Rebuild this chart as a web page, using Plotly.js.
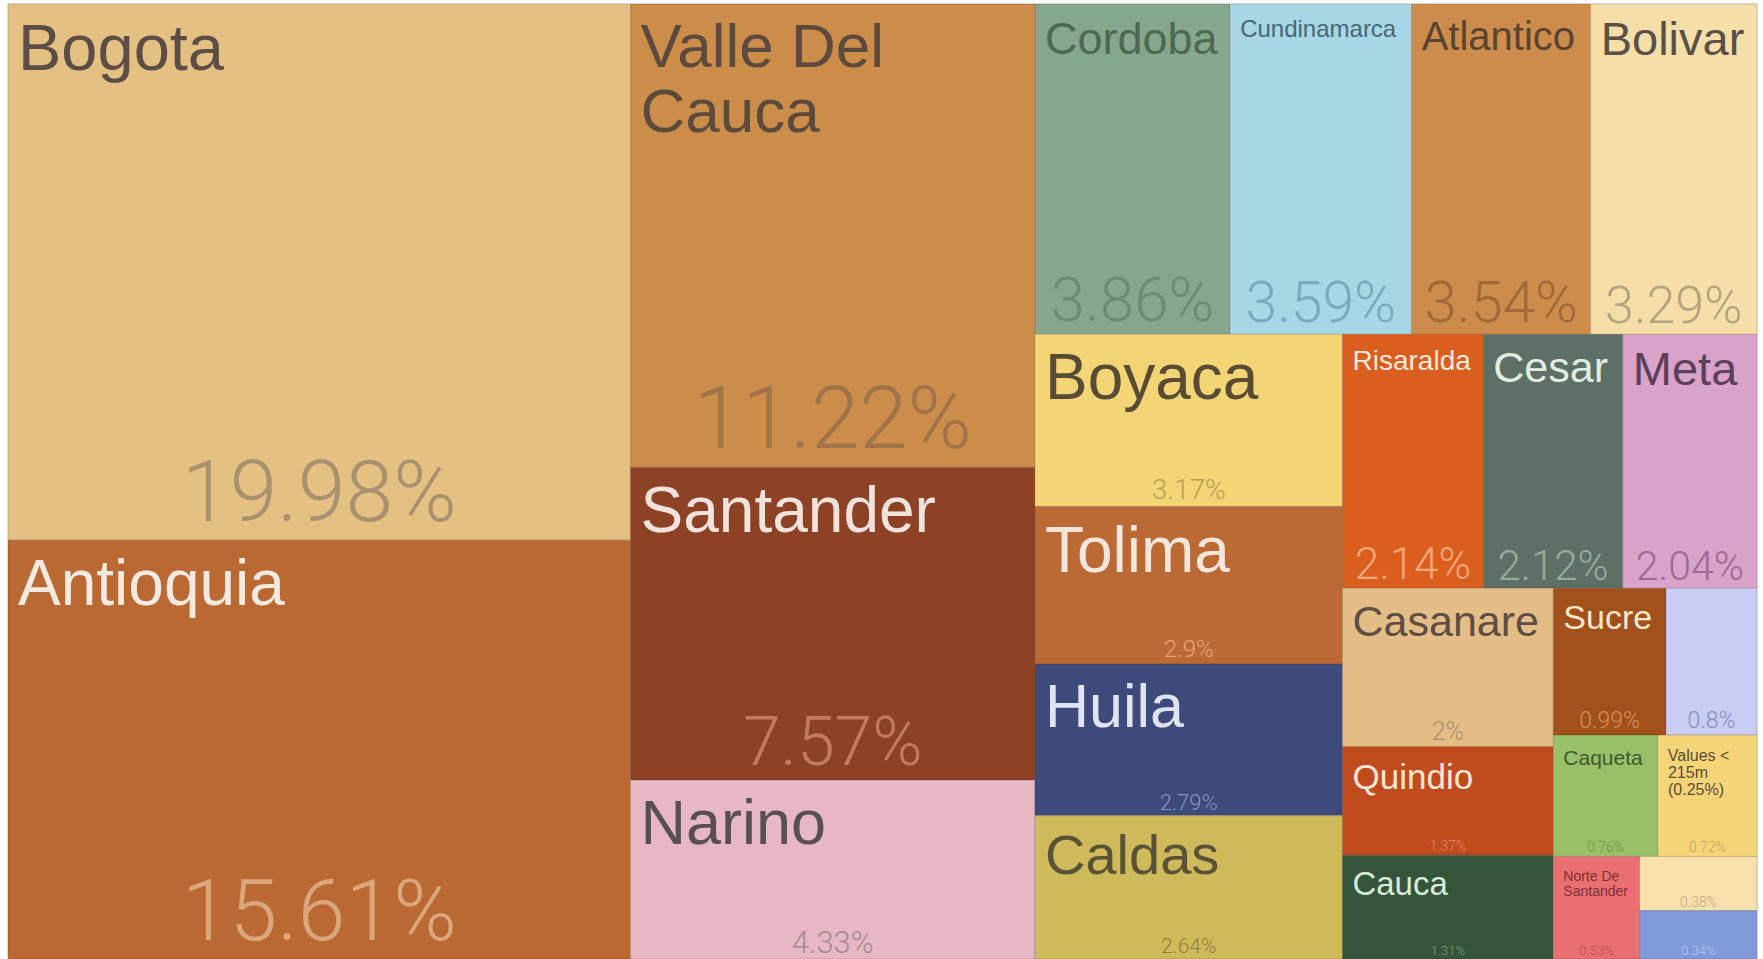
<!DOCTYPE html>
<html>
<head>
<meta charset="utf-8">
<script src="https://cdn.plot.ly/plotly-3.0.1.min.js"></script>
<style>html,body{margin:0;padding:0;background:#fff;overflow:hidden;}#chart{width:1763px;}#err{position:absolute;left:10px;top:10px;font:14px monospace;color:red;}</style>
</head>
<body>
<div id="chart"></div>
<div id="err"></div>
<script>
window.onerror = function (m) { document.getElementById('err').textContent += ' ERR: ' + m; };
// ---- data ----
const rootName = 'Colombia';
const regions = ['Bogota','Antioquia','Valle Del Cauca','Santander','Narino','Cordoba','Cundinamarca','Atlantico','Bolivar','Boyaca','Tolima','Huila','Caldas','Risaralda','Cesar','Meta','Casanare','Quindio','Cauca','Sucre','(unlabeled A)','Caqueta','Values < 215m (0.25%)','Norte De Santander','(unlabeled B)','(unlabeled C)'];
const shares = [19.98,15.61,11.22,7.57,4.33,3.86,3.59,3.54,3.29,3.17,2.9,2.79,2.64,2.14,2.12,2.04,2,1.37,1.31,0.99,0.8,0.76,0.72,0.53,0.38,0.34];
const shownLabels = ['Bogota','Antioquia','Valle Del<br>Cauca','Santander','Narino','Cordoba','Cundinamarca','Atlantico','Bolivar','Boyaca','Tolima','Huila','Caldas','Risaralda','Cesar','Meta','Casanare','Quindio','Cauca','Sucre','','Caqueta','Values &lt;<br>215m<br>(0.25%)','Norte De<br>Santander','',''];

// ---- styles ----
const fillColors = ['#E4C083','#BA6933','#CC8D4B','#8D4226','#E7B8C3','#85A78D','#A7D6E5','#CD8C4C','#F6DEA9','#F3D575','#BB6A35','#3D4A7B','#CEB95B','#DA5E1E','#5E6F65','#D9A2C9','#E3BD85','#C04B1C','#35553A','#A15119','#C9CDF3','#99C069','#F6D579','#E96F71','#F7E0AB','#7F99D9'];
const labelColors = ['#5c4e44','#f6e9df','#5c4a3c','#f2e2dc','#585050','#4e6852','#476775','#5a4430','#5a5048','#5a4c34','#f4e6da','#e0e3f0','#5a5236','#fde9dc','#e2ece2','#5a4058','#5c4e44','#fde4d6','#d8eadb','#f8e6cf','#5c4e44','#3f5a2f','#5a4c34','#7e2f37','#5c4e44','#5c4e44'];
const pctColors = ['#a8916e','#dba67c','#a07349','#c27a62','#a48b94','#6b8d73','#7aaabc','#a0693a','#b4a37f','#b6a05a','#e5a574','#8a93bd','#8f7f3e','#f6a77a','#95ab9c','#9c6a93','#a9916e','#e88a66','#7f9c84','#d58f5c','#8a90bb','#6a8e48','#b89f5c','#b84a52','#bcab85','#b8c6ee'];
const labelSizes = [65,64,62,64,63,45,24,40,47,64,64,61,56,28,43,47,43,35,33,34,10,21,16,14,10,10];
const pctSizes = [86,86,87,68,31,62,57,58,52,28,24,22,21,44,42,41,25,14,13,23,23,14,14,13,14,13];

// label inset: a non-breaking space sized to push the text ~7px right and a few px down
function padSpan(px, shift) {
  const s = px + shift / 0.905;
  const ls = 7 - 0.278 * s;
  return '<span style="font-size:' + s.toFixed(1) + 'px;letter-spacing:' + ls.toFixed(1) + 'px">&nbsp;</span>';
}
function labelText(text, g) {
  if (!text) return '';
  const shift = 4 + Math.max(0, 64 - g) * 0.1;
  return text.split('<br>').map(function (line, i) {
    return padSpan(g, i === 0 ? shift : 0) + '<span style="font-size:' + g + 'px">' + line + '</span>';
  }).join('<br>');
}
// base font size sets the line step of wrapped labels
const labelBaseSizes = shownLabels.map((t, i) => t.indexOf('<br>') >= 0 ? Math.round(labelSizes[i] * 0.8) : labelSizes[i]);

const ids = [rootName].concat(regions);
const parents = [''].concat(regions.map(() => rootName));
const values = [0].concat(shares);
const tiling = {packing: 'squarify', squarifyratio: 1.618034, pad: 0};

// figure is slightly taller than the 959px window; percentage layers sit a few px lower than the tiles
const topM = 4, maxDrop = 5;
const figH = 959 + maxDrop;
const areaH = figH - topM;

function base() {
  return {
    type: 'treemap',
    ids: ids,
    labels: ids,
    parents: parents,
    values: values,
    branchvalues: 'remainder',
    sort: true,
    tiling: tiling,
    pathbar: {visible: false}
  };
}

const tilesTrace = Object.assign(base(), {
  domain: {x: [0, 1], y: [maxDrop / areaH, 1]},
  customdata: [''].concat(shownLabels.map((t, i) => labelText(t, labelSizes[i]))),
  texttemplate: '%{customdata}',
  textposition: 'top left',
  textfont: {family: 'Liberation Sans, Arial, sans-serif', size: [10].concat(labelBaseSizes), color: ['#ffffff'].concat(labelColors)},
  marker: {colors: ['#ffffff'].concat(fillColors), line: {width: 1, color: 'rgba(60,40,30,0.18)'}, pad: {t: 0, l: 0, r: 0, b: 0}},
  hovertemplate: '%{label}<br>%{value}%<extra></extra>'
});

function pctLayer(drop, keep) {
  return Object.assign(base(), {
    domain: {x: [0, 1], y: [(maxDrop - drop) / areaH, 1 - drop / areaH]},
    customdata: [''].concat(shares.map((v, i) => keep(pctSizes[i]) ? v + '%' : '')),
    texttemplate: '%{customdata}',
    textposition: 'bottom center',
    textfont: {family: 'Roboto, Liberation Sans, sans-serif', weight: 300, size: [10].concat(pctSizes), color: ['#ffffff'].concat(pctColors)},
    marker: {colors: ids.map(() => 'rgba(0,0,0,0)'), line: {width: 0}, pad: {t: 0, l: 0, r: 0, b: 0}},
    hoverinfo: 'skip'
  });
}

const layout = {
  width: 1763,
  height: figH,
  margin: {l: 8, r: 6, t: topM, b: 0},
  paper_bgcolor: '#ffffff',
  showlegend: false
};

Plotly.newPlot('chart', [tilesTrace, pctLayer(5, s => s >= 30), pctLayer(2, s => s < 30)], layout, {displayModeBar: false})
  .catch(function (e) { document.getElementById('err').textContent += ' REJ: ' + e; });
</script>
</body>
</html>
